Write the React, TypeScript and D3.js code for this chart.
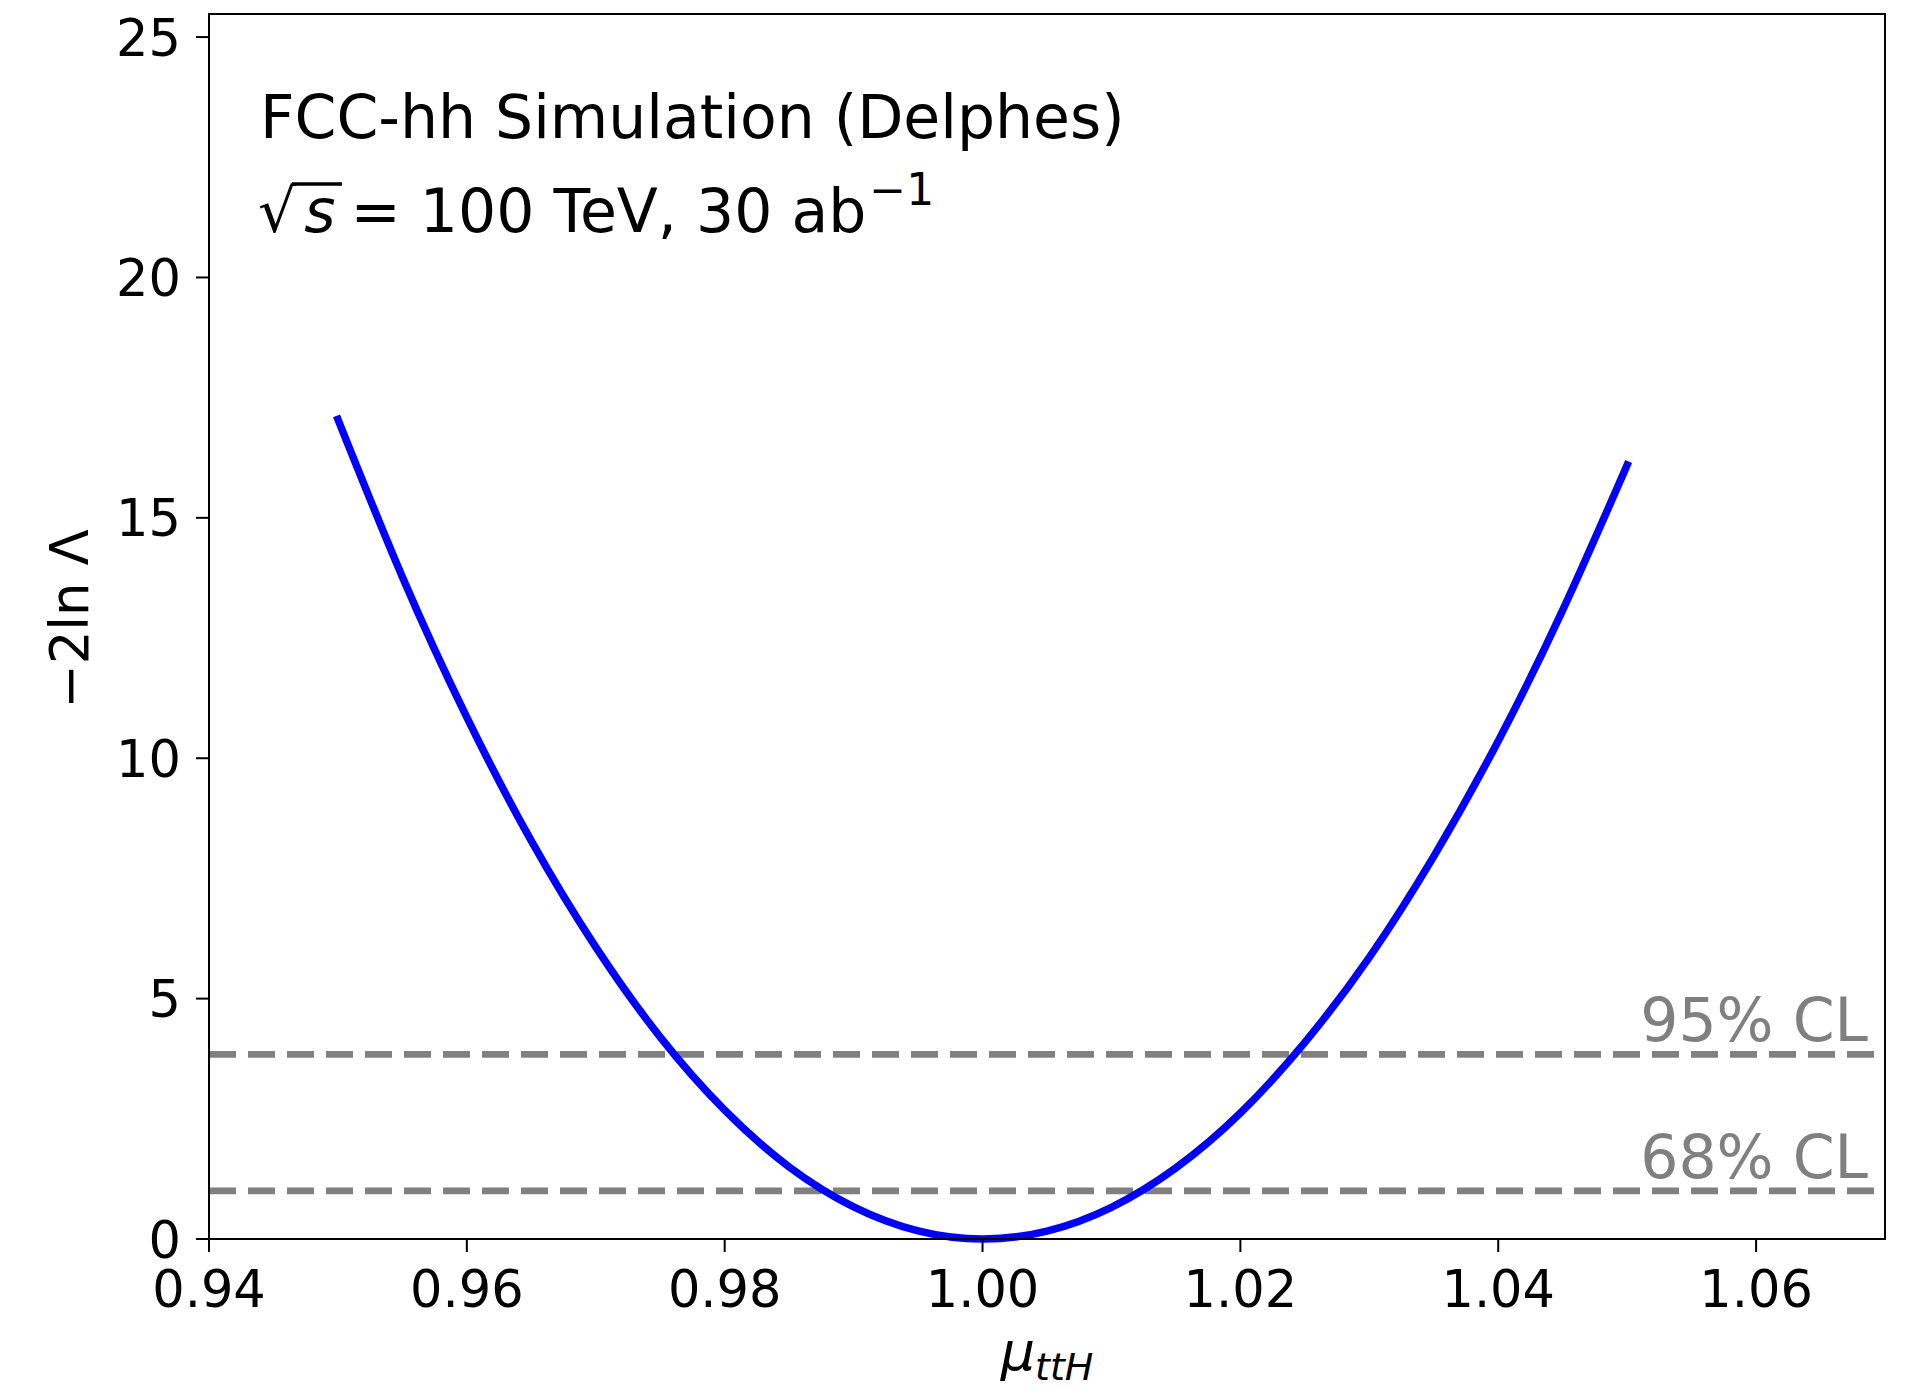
import * as d3 from "d3";

// signal strength scan
const muValues = [
  0.95, 0.955, 0.96, 0.965, 0.97, 0.975, 0.98, 0.985, 0.99, 0.995, 1.0,
  1.005, 1.01, 1.015, 1.02, 1.025, 1.03, 1.035, 1.04, 1.045, 1.05,
];
const nllValues = [
  17.05, 13.77, 10.85, 8.28, 6.07, 4.2, 2.68, 1.5, 0.67, 0.17, 0.0,
  0.165, 0.66, 1.48, 2.62, 4.09, 5.86, 7.96, 10.36, 13.08, 16.1,
];

const xTicks = [0.94, 0.96, 0.98, 1.0, 1.02, 1.04, 1.06];
const yTicks = [0, 5, 10, 15, 20, 25];

const clLevels = [3.84, 1.0];
const clLabels = ["95% CL", "68% CL"];

const W = 1916;
const H = 1389;
const FONT = "DejaVu Sans, sans-serif";

export default function App() {
  const margin = { left: 209, top: 14, right: 1885, bottom: 1239 };

  const x = d3.scaleLinear().domain([0.94, 1.07]).range([margin.left, margin.right]);
  const y = d3.scaleLinear().domain([0, 25.48]).range([margin.bottom, margin.top]);

  const pts = muValues.map((m, i) => [m, nllValues[i]] as [number, number]);
  const path = d3
    .line<[number, number]>()
    .x((d) => x(d[0]))
    .y((d) => y(d[1]))
    .curve(d3.curveNatural)(pts);

  return (
    <svg
      width={W}
      height={H}
      style={{ position: "absolute", left: 0, top: 0, background: "#fff" }}
      fontFamily={FONT}
    >
      <rect x={0} y={0} width={W} height={H} fill="#fff" />

      {/* confidence level lines */}
      {clLevels.map((lv, i) => (
        <g key={"cl" + i}>
          <line
            x1={x(0.94)}
            x2={x(1.07)}
            y1={y(lv)}
            y2={y(lv)}
            stroke="#808080"
            strokeWidth={6.6}
            strokeDasharray="27 12"
          />
          <text
            x={1868}
            y={y(lv) - 13}
            textAnchor="end"
            fontSize={60}
            fill="#808080"
          >
            {clLabels[i]}
          </text>
        </g>
      ))}

      {/* likelihood curve */}
      <path d={path || ""} fill="none" stroke="#0000ff" strokeWidth={7.5} strokeLinecap="square" />

      {/* frame */}
      <rect
        x={margin.left}
        y={margin.top}
        width={margin.right - margin.left}
        height={margin.bottom - margin.top}
        fill="none"
        stroke="#000"
        strokeWidth={2}
      />

      {/* x axis */}
      {xTicks.map((t) => (
        <g key={"x" + t}>
          <line x1={x(t)} x2={x(t)} y1={margin.bottom} y2={margin.bottom + 13} stroke="#000" strokeWidth={2} />
          <text x={x(t)} y={1307} textAnchor="middle" fontSize={51}>
            {t.toFixed(2)}
          </text>
        </g>
      ))}

      {/* y axis */}
      {yTicks.map((t) => (
        <g key={"y" + t}>
          <line x1={margin.left - 13} x2={margin.left} y1={y(t)} y2={y(t)} stroke="#000" strokeWidth={2} />
          <text x={181} y={y(t) + 18.6} textAnchor="end" fontSize={51}>
            {t}
          </text>
        </g>
      ))}

      {/* axis labels */}
      <text transform={`translate(88,619) rotate(-90)`} textAnchor="middle" fontSize={53}>
        −2ln Λ
      </text>
      <text x={1047} y={1370} textAnchor="middle" fontSize={54}>
        <tspan fontStyle="italic">μ</tspan>
        <tspan fontStyle="italic" fontSize={38} dy={10}>
          ttH
        </tspan>
      </text>

      {/* annotation */}
      <text x={260} y={138} fontSize={60}>
        FCC-hh Simulation (Delphes)
      </text>
      <text x={258} y={232} fontSize={60}>
        <tspan>√</tspan>
        <tspan fontStyle="italic" dx={8}>s</tspan>
        <tspan dx={15}>= 100 TeV, 30 ab</tspan>
        <tspan fontSize={44} dx={3} dy={-27}>−1</tspan>
      </text>
      <line x1={292} x2={342} y1={184} y2={184} stroke="#000" strokeWidth={3.5} />
    </svg>
  );
}
